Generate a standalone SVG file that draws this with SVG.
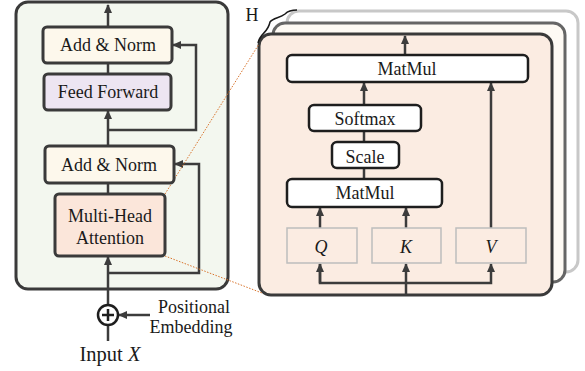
<svg xmlns="http://www.w3.org/2000/svg" width="585" height="371" viewBox="0 0 585 371">
<defs>
<marker id="ah" viewBox="0 0 10 10" refX="9" refY="5" markerWidth="9" markerHeight="9" markerUnits="userSpaceOnUse" orient="auto"><path d="M0,0.5 L10,5 L0,9.5 z" fill="#3c3c3c"/></marker>
</defs>
<style>
text{font-family:"Liberation Serif","Times New Roman",serif;font-size:18px;fill:#1a1a1a;text-anchor:middle}
.box{stroke:#3a3a3a;stroke-width:3}
.wbox{fill:#ffffff;stroke:#1e1e1e;stroke-width:2.5}
.qkv{fill:none;stroke:#bdbdbd;stroke-width:1.5}
.ln{fill:none;stroke:#3c3c3c;stroke-width:2.5}
.dot{fill:none;stroke:#d9742c;stroke-width:1;stroke-dasharray:1.5 1.5}
.it{font-style:italic}
</style>
<g id="encoder-panel"><rect x="16" y="2" width="212" height="287" rx="12" fill="#f3f7ef" stroke="#3a3a3a" stroke-width="3"/></g>
<g id="head-stack">
<rect x="287" y="11" width="291" height="261" rx="12" fill="#ffffff" stroke="#c8c8c8" stroke-width="3"/>
<rect x="273" y="23" width="292" height="259" rx="12" fill="#fefaf4" stroke="#666666" stroke-width="3"/>
<rect x="259" y="34" width="293" height="261" rx="12" fill="#fbece2" stroke="#3a3a3a" stroke-width="3"/>
</g>
<g id="H-label"><text x="252" y="21">H</text><path d="M258,43 C260,33 268,33 270,22 C273,18 280,18 285,14 C289,10 293,10 297,10" fill="none" stroke="#1a1a1a" stroke-width="1.5"/></g>
<g id="connectors">
<line class="ln" x1="108" y1="27" x2="108" y2="5" marker-end="url(#ah)"/>
<line class="ln" x1="108" y1="63" x2="108" y2="74"/>
<line class="ln" x1="108" y1="146" x2="108" y2="111" marker-end="url(#ah)"/>
<polyline class="ln" points="108,130 196,130 196,45 173,45" marker-end="url(#ah)"/>
<line class="ln" x1="108" y1="183" x2="108" y2="194"/>
<polyline class="ln" points="108,273 199,273 199,164 175,164" marker-end="url(#ah)"/>
<line class="ln" x1="108" y1="305" x2="108" y2="257" marker-end="url(#ah)"/>
<line class="ln" x1="108" y1="325" x2="108" y2="341"/>
<line class="ln" x1="150" y1="315" x2="119" y2="315" marker-end="url(#ah)"/>
<line class="ln" x1="405" y1="55" x2="405" y2="36" marker-end="url(#ah)"/>
<line class="ln" x1="364" y1="105" x2="364" y2="83" marker-end="url(#ah)"/>
<line class="ln" x1="364" y1="131" x2="364" y2="142"/>
<line class="ln" x1="364" y1="168" x2="364" y2="179"/>
<line class="ln" x1="491" y1="228" x2="491" y2="83" marker-end="url(#ah)"/>
<line class="ln" x1="320" y1="228" x2="320" y2="208" marker-end="url(#ah)"/>
<line class="ln" x1="406" y1="228" x2="406" y2="208" marker-end="url(#ah)"/>
<polyline class="ln" points="320,264 320,283 491,283 491,264" marker-end="url(#ah)"/>
<line class="ln" x1="320" y1="283" x2="320" y2="264" marker-end="url(#ah)"/>
<line class="ln" x1="406" y1="295" x2="406" y2="264" marker-end="url(#ah)"/>
<line class="dot" x1="165" y1="194" x2="259" y2="44"/>
<line class="dot" x1="165" y1="256" x2="262" y2="293"/>
</g>
<g id="add-norm-1"><rect class="box" x="43" y="27" width="129" height="36" rx="4" fill="#fdf8ec"/><text x="108" y="51">Add &amp; Norm</text></g>
<g id="feed-forward"><rect class="box" x="44" y="74" width="127" height="36" rx="4" fill="#ede5f2"/><text x="108" y="98">Feed Forward</text></g>
<g id="add-norm-2"><rect class="box" x="45" y="146" width="129" height="37" rx="4" fill="#fdf8ec"/><text x="109" y="171">Add &amp; Norm</text></g>
<g id="multi-head-attention"><rect class="box" x="55" y="194" width="110" height="62" rx="4" fill="#fbe6da"/><text x="110" y="222">Multi-Head</text><text x="110" y="244">Attention</text></g>
<g id="pos-add"><circle cx="108" cy="315" r="10" fill="#ffffff" stroke="#1e1e1e" stroke-width="2.5"/><path d="M102,315 H114 M108,309 V321" stroke="#1e1e1e" stroke-width="2.5"/></g>
<g id="positional-embedding"><text x="194" y="313">Positional</text><text x="191" y="333">Embedding</text></g>
<g id="input"><text x="110" y="361" style="font-size:20.5px">Input <tspan class="it">X</tspan></text></g>
<g id="matmul-top"><rect class="wbox" x="287" y="55" width="241" height="27" rx="5"/><text x="407" y="75">MatMul</text></g>
<g id="softmax"><rect class="wbox" x="309" y="105" width="112" height="26" rx="5"/><text x="365" y="125">Softmax</text></g>
<g id="scale"><rect class="wbox" x="332" y="142" width="67" height="26" rx="5"/><text x="365" y="163">Scale</text></g>
<g id="matmul-bottom"><rect class="wbox" x="287" y="179" width="155" height="28" rx="5"/><text x="365" y="199">MatMul</text></g>
<g id="q"><rect class="qkv" x="287" y="228" width="70" height="35"/><text class="it" x="321" y="253">Q</text></g>
<g id="k"><rect class="qkv" x="372" y="228" width="69" height="35"/><text class="it" x="406" y="253">K</text></g>
<g id="v"><rect class="qkv" x="456" y="228" width="70" height="35"/><text class="it" x="491" y="253">V</text></g>
</svg>
